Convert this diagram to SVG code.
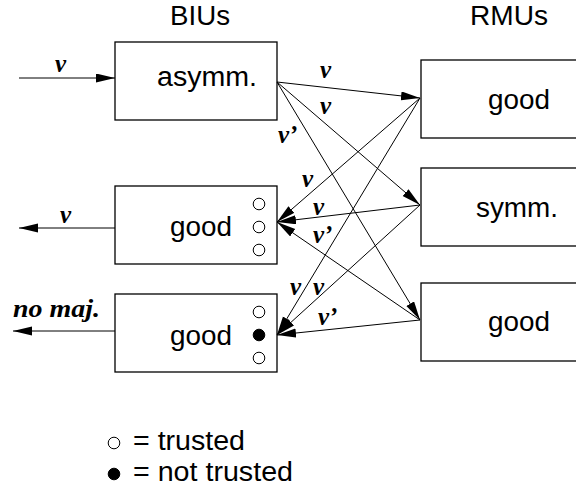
<svg xmlns="http://www.w3.org/2000/svg" width="576" height="494" viewBox="0 0 576 494">
<style>
.box{fill:#fff;stroke:#000;stroke-width:1.3}
.t{font-family:"Liberation Sans",Arial,sans-serif;font-size:27px;fill:#000}
.l{font-family:"Liberation Serif","Times New Roman",serif;font-size:25px;font-weight:bold;font-style:italic;fill:#000}
.c{stroke:#000;stroke-width:1;fill:none}
.open{fill:#fff;stroke:#000;stroke-width:1}
.full{fill:#000;stroke:#000;stroke-width:1}
</style>
<defs>
<marker id="ah" markerUnits="userSpaceOnUse" markerWidth="20" markerHeight="10" refX="19" refY="4.5" orient="auto" viewBox="0 0 20 10">
<path d="M0,0 L19,4.5 L0,9 z" fill="#000"/>
</marker>
</defs>
<text class="t" x="170" y="25" textLength="60" lengthAdjust="spacingAndGlyphs">BIUs</text>
<text class="t" x="470" y="25" textLength="78" lengthAdjust="spacingAndGlyphs">RMUs</text>
<g id="biu1">
<rect class="box" x="115" y="42" width="162" height="78"/>
<text class="t" x="157" y="86" textLength="100" lengthAdjust="spacingAndGlyphs">asymm.</text>
</g>
<g id="biu2">
<rect class="box" x="115" y="186" width="162" height="78"/>
<text class="t" x="170" y="236" textLength="62" lengthAdjust="spacingAndGlyphs">good</text>
<circle class="open" cx="259" cy="204" r="5.8"/>
<circle class="open" cx="259" cy="227" r="5.8"/>
<circle class="open" cx="259" cy="250" r="5.8"/>
</g>
<g id="biu3">
<rect class="box" x="115" y="294" width="162" height="78"/>
<text class="t" x="170" y="345" textLength="62" lengthAdjust="spacingAndGlyphs">good</text>
<circle class="open" cx="259" cy="312" r="5.8"/>
<circle class="full" cx="259" cy="335" r="5.8"/>
<circle class="open" cx="259" cy="358" r="5.8"/>
</g>
<g id="rmu1">
<rect class="box" x="421" y="60" width="170" height="78"/>
<text class="t" x="488" y="109" textLength="62" lengthAdjust="spacingAndGlyphs">good</text>
</g>
<g id="rmu2">
<rect class="box" x="421" y="168" width="170" height="78"/>
<text class="t" x="476" y="217" textLength="82" lengthAdjust="spacingAndGlyphs">symm.</text>
</g>
<g id="rmu3">
<rect class="box" x="421" y="283" width="170" height="78"/>
<text class="t" x="488" y="331" textLength="62" lengthAdjust="spacingAndGlyphs">good</text>
</g>
<g id="connectors">
<line class="c" x1="19" y1="78" x2="115" y2="78" marker-end="url(#ah)"/>
<line class="c" x1="115" y1="228" x2="19" y2="228" marker-end="url(#ah)"/>
<line class="c" x1="115" y1="331" x2="13" y2="331" marker-end="url(#ah)"/>
<line class="c" x1="277" y1="82" x2="420" y2="98" marker-end="url(#ah)"/>
<line class="c" x1="277" y1="82" x2="420" y2="205" marker-end="url(#ah)"/>
<line class="c" x1="277" y1="82" x2="420" y2="320" marker-end="url(#ah)"/>
<line class="c" x1="420" y1="98" x2="277" y2="222" marker-end="url(#ah)"/>
<line class="c" x1="420" y1="98" x2="277" y2="335" marker-end="url(#ah)"/>
<line class="c" x1="420" y1="205" x2="277" y2="222" marker-end="url(#ah)"/>
<line class="c" x1="420" y1="205" x2="277" y2="335" marker-end="url(#ah)"/>
<line class="c" x1="420" y1="320" x2="277" y2="222" marker-end="url(#ah)"/>
<line class="c" x1="420" y1="320" x2="277" y2="335" marker-end="url(#ah)"/>
</g>
<g id="labels">
<text class="l" x="55" y="72">v</text>
<text class="l" x="60" y="223">v</text>
<text class="l" x="13" y="317" textLength="87" lengthAdjust="spacingAndGlyphs">no maj.</text>
<text class="l" x="320" y="78">v</text>
<text class="l" x="320" y="114">v</text>
<text class="l" x="278" y="143">v’</text>
<text class="l" x="302" y="187">v</text>
<text class="l" x="313" y="215">v</text>
<text class="l" x="313" y="243">v’</text>
<text class="l" x="290" y="295">v</text>
<text class="l" x="313" y="295">v</text>
<text class="l" x="318" y="325">v’</text>
</g>
<g id="legend">
<circle class="open" cx="114" cy="443" r="5.8"/>
<text class="t" x="133" y="450" textLength="112" lengthAdjust="spacingAndGlyphs">= trusted</text>
<circle class="full" cx="114" cy="474" r="5.8"/>
<text class="t" x="133" y="481" textLength="160" lengthAdjust="spacingAndGlyphs">= not trusted</text>
</g>
</svg>
